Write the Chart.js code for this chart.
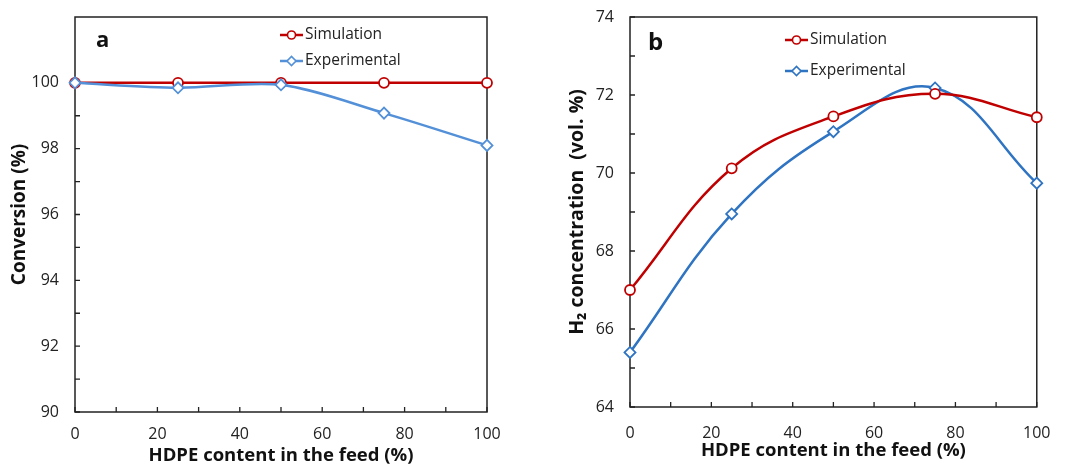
<!DOCTYPE html>
<html>
<head>
<meta charset="utf-8">
<script src="https://cdn.jsdelivr.net/npm/chart.js@4.4.1/dist/chart.umd.min.js"></script>
<style>
body { margin: 0; background: #fff; }
#wrapA { position: absolute; left: 0; top: 0; width: 530px; height: 466px; }
#wrapB { position: absolute; left: 530px; top: 0; width: 537px; height: 466px; }
</style>
</head>
<body>
<div id="wrapA"><canvas id="chartA" width="530" height="466"></canvas></div>
<div id="wrapB"><canvas id="chartB" width="537" height="466"></canvas></div>
<script>
// data
var hdpe = [0, 25, 50, 75, 100];
var convSim = [100, 100, 100, 100, 100];
var convExp = [100, 99.85, 99.94, 99.08, 98.1];
var h2Sim = [67.0, 70.12, 71.45, 72.03, 71.43];
var h2Exp = [65.4, 68.95, 71.06, 72.18, 69.74];

// minor (inside) tick marks
var xMarks = [0, 10, 20, 30, 40, 50, 60, 70, 80, 90, 100];
var convMarks = [90, 91, 92, 93, 94, 95, 96, 97, 98, 99, 100];
var h2Marks = [64, 65, 66, 67, 68, 69, 70, 71, 72, 73, 74];

var FONT = "'Open Sans', 'Noto Sans', sans-serif";
var red = '#C00000';
var blueA = '#5390D8';
var blueB = '#2F74C2';

function toPoints(xs, ys) {
    var pts = [];
    for (var i = 0; i < xs.length; i++) {
        pts.push({ x: xs[i], y: ys[i] });
    }
    return pts;
}

// box round the plot + ticks pointing inwards
var framePlugin = {
    id: 'frame',
    beforeDatasetsDraw: function (chart, args, opts) {
        var ctx = chart.ctx, a = chart.chartArea;
        var xs = chart.scales.x, ys = chart.scales.y;
        ctx.save();
        ctx.strokeStyle = '#222';
        ctx.lineWidth = 1.5;
        ctx.strokeRect(a.left, a.top, a.right - a.left, a.bottom - a.top);
        ctx.lineWidth = 1.3;
        ctx.beginPath();
        opts.xMarks.forEach(function (v) {
            var px = xs.getPixelForValue(v);
            ctx.moveTo(px, a.bottom);
            ctx.lineTo(px, a.bottom - 5);
        });
        opts.yMarks.forEach(function (v) {
            var py = ys.getPixelForValue(v);
            ctx.moveTo(a.left, py);
            ctx.lineTo(a.left + 5, py);
        });
        ctx.stroke();
        ctx.restore();
    },
    afterDraw: function (chart, args, opts) {
        var ctx = chart.ctx;
        ctx.save();
        // panel letter
        ctx.fillStyle = '#111';
        ctx.font = 'bold ' + opts.letterSize + 'px ' + FONT;
        ctx.textBaseline = 'alphabetic';
        ctx.textAlign = 'left';
        ctx.fillText(opts.letter, opts.letterX, opts.letterY);
        // legend: line + marker + text
        chart.data.datasets.forEach(function (ds, i) {
            var it = opts.legend[ds.label];
            if (!it) return;
            ctx.strokeStyle = ds.borderColor;
            ctx.lineWidth = 2.5;
            ctx.beginPath();
            ctx.moveTo(it.x1, it.y);
            ctx.lineTo(it.x2, it.y);
            ctx.stroke();
            ctx.fillStyle = '#fff';
            ctx.lineWidth = 1.6;
            Chart.helpers.drawPoint(ctx, {
                pointStyle: ds.pointStyle, radius: ds.pointRadius - 1,
                borderWidth: 1.6, rotation: 0
            }, (it.x1 + it.x2) / 2, it.y);
            ctx.fillStyle = '#222';
            ctx.font = '15.5px ' + FONT;
            ctx.textBaseline = 'middle';
            ctx.fillText(ds.label, it.x2 + 2, it.y);
        });
        ctx.restore();
    }
};

function lineSet(label, xs, ys, color, style, tension, order) {
    return {
        label: label,
        data: toPoints(xs, ys),
        borderColor: color,
        backgroundColor: '#fff',
        borderWidth: 2.5,
        pointStyle: style,
        pointRadius: style === 'circle' ? 5 : 5.5,
        pointBorderWidth: 1.8,
        pointBackgroundColor: '#fff',
        pointBorderColor: color,
        tension: tension,
        clip: false,
        order: order
    };
}

var tickFont = { family: FONT, size: 16 };

var chartA = new Chart(document.getElementById('chartA'), {
    type: 'line',
    data: {
        datasets: [
            lineSet('Simulation', hdpe, convSim, red, 'circle', 0, 1),
            lineSet('Experimental', hdpe, convExp, blueA, 'rectRot', 0.3, 0)
        ]
    },
    options: {
        responsive: false,
        animation: false,
        devicePixelRatio: 1,
        layout: { padding: { left: 0, right: 43, top: 17, bottom: 0 } },
        scales: {
            x: {
                type: 'linear', min: 0, max: 100,
                grid: { display: false, drawTicks: false },
                border: { display: false },
                ticks: { stepSize: 20, padding: 13, color: '#222', font: tickFont, maxRotation: 0 },
                title: {
                    display: true, text: 'HDPE content in the feed (%)', color: '#111',
                    font: { family: FONT, size: 18.5, weight: 'bold', lineHeight: 1 },
                    padding: { top: 0, bottom: 1.5 }
                },
                afterFit: function (s) { s.height = 54; }
            },
            y: {
                min: 90, max: 102,
                grid: { display: false, drawTicks: false },
                border: { display: false },
                ticks: {
                    stepSize: 2, padding: 16, color: '#222', font: tickFont,
                    callback: function (v) { return v > 100 ? '' : v; }
                },
                title: {
                    display: true, text: 'Conversion (%)', color: '#111',
                    font: { family: FONT, size: 19, weight: 'bold', lineHeight: 1.2 },
                    padding: { top: 8.6, bottom: 0 }
                },
                afterFit: function (s) { s.width = 75; s.paddingTop = 0; }
            }
        },
        plugins: {
            legend: { display: false },
            tooltip: { enabled: false },
            frame: {
                xMarks: xMarks, yMarks: convMarks,
                letter: 'a', letterSize: 22, letterX: 96, letterY: 47,
                legend: {
                    'Simulation': { x1: 280, x2: 303, y: 35 },
                    'Experimental': { x1: 280, x2: 303, y: 61 }
                }
            }
        }
    },
    plugins: [framePlugin]
});

var chartB = new Chart(document.getElementById('chartB'), {
    type: 'line',
    data: {
        datasets: [
            lineSet('Simulation', hdpe, h2Sim, red, 'circle', 0.4, 0),
            lineSet('Experimental', hdpe, h2Exp, blueB, 'rectRot', 0.4, 1)
        ]
    },
    options: {
        responsive: false,
        animation: false,
        devicePixelRatio: 1,
        layout: { padding: { left: 0, right: 28, top: 17, bottom: 0 } },
        scales: {
            x: {
                type: 'linear', min: 0, max: 100,
                grid: { display: false, drawTicks: false },
                border: { display: false },
                ticks: { stepSize: 20, padding: 16.5, color: '#222', font: tickFont, maxRotation: 0 },
                title: {
                    display: true, text: 'HDPE content in the feed (%)', color: '#111',
                    font: { family: FONT, size: 18.5, weight: 'bold', lineHeight: 1 },
                    padding: { top: 0, bottom: 6.5 }
                },
                afterFit: function (s) { s.height = 59; }
            },
            y: {
                min: 64, max: 74,
                grid: { display: false, drawTicks: false },
                border: { display: false },
                ticks: { stepSize: 2, padding: 16, color: '#222', font: tickFont },
                title: {
                    display: true, text: 'H\u2082 concentration  (vol. %)', color: '#111',
                    font: { family: FONT, size: 19.5, weight: 'bold', lineHeight: 1.2 },
                    padding: { top: 35.3, bottom: 0 }
                },
                afterFit: function (s) { s.width = 100; s.paddingTop = 0; }
            }
        },
        plugins: {
            legend: { display: false },
            tooltip: { enabled: false },
            frame: {
                xMarks: xMarks, yMarks: h2Marks,
                letter: 'b', letterSize: 24, letterX: 118, letterY: 50,
                legend: {
                    'Simulation': { x1: 255, x2: 278, y: 40 },
                    'Experimental': { x1: 255, x2: 278, y: 71 }
                }
            }
        }
    },
    plugins: [framePlugin]
});
</script>
</body>
</html>
